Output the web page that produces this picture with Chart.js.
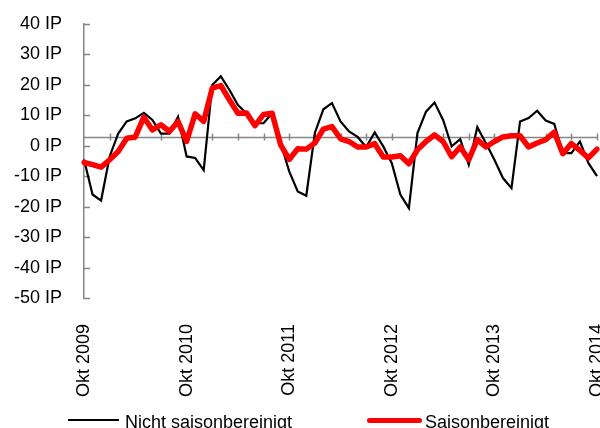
<!DOCTYPE html>
<html>
<head>
<meta charset="utf-8">
<script src="https://cdn.jsdelivr.net/npm/chart.js@4/dist/chart.umd.min.js"></script>
<style>
  html, body { margin: 0; padding: 0; background: #fff; overflow: hidden; }
  #wrap { position: relative; width: 600px; height: 428px; overflow: hidden; }
  .legend-line { position: absolute; }
  .legend-text { position: absolute; font: 18px Arial, "Liberation Sans", sans-serif; color: #000; white-space: nowrap; }
</style>
</head>
<body>
<div id="wrap">
  <canvas id="chart" width="600" height="428"></canvas>
  <div class="legend-line" style="left:68px; top:419px; width:51px; height:2px; background:#000;"></div>
  <div class="legend-text" style="left:125px; top:412px;">Nicht saisonbereinigt</div>
  <div class="legend-line" style="left:367px; top:418px; width:55px; height:5px; border-radius:3px; background:#f00;"></div>
  <div class="legend-text" style="left:425px; top:412px;">Saisonbereinigt</div>
</div>
<script>
// Months Okt 2009 .. Okt 2014
const monthNames = ["Jan", "Feb", "Mär", "Apr", "Mai", "Jun", "Jul", "Aug", "Sep", "Okt", "Nov", "Dez"];
const startYear = 2009;
const startMonth = 9; // Okt
const monthCount = 61;

// Nicht saisonbereinigt (IP)
const rawValues = [
  -4.5, -16, -18, -3.5, 4, 8, 9, 10.8, 8.5, 4, 4, 9.5,
  -3.5, -4, -8, 20, 22.8, 18.4, 13.4, 10.7, 7.4, 7.4, 10.7, 0.9,
  -8.4, -15, -16.4, 4.2, 12, 14, 8, 4.7, 2.9, -0.4, 4.4, -0.2,
  -5.7, -16, -20.5, 4.2, 11.2, 14.2, 8.5, -0.2, 2.2, -6.2, 6.1, 0.9,
  -4.6, -10.6, -13.9, 8, 9.1, 11.5, 8.3, 7.2, -2.4, -2.4, 1.4, -5.7,
  -10
];

// Saisonbereinigt (IP)
const adjValues = [
  -5.5, -6.2, -7, -4.6, -1.9, 2.5, 2.9, 9.4, 5.2, 6.9, 4.7, 8,
  1.4, 10.5, 8, 18.9, 19.8, 15.1, 10.7, 10.8, 6.6, 10.3, 10.7, 0.3,
  -4.5, -1, -1.1, 0.9, 5.5, 6.3, 2.3, 1.4, -0.4, -0.4, 0.7, -3.7,
  -3.7, -3.3, -5.9, -1.3, 1.4, 3.6, 1.4, -3.6, -0.4, -4.6, 2, -0.4,
  1.4, 2.9, 3.3, 3.3, -0.4, 0.9, 2, 4.5, -2.6, 0.7, -1.5, -4,
  -1.1
];

const yMin = -50;
const yMax = 40;
const yStep = 10;
const axisCross = 2.8; // where the category axis line crosses

const labels = [];
for (let i = 0; i < monthCount; i++) {
  const m = (startMonth + i) % 12;
  const y = startYear + Math.floor((startMonth + i) / 12);
  labels.push(monthNames[m] + " " + y);
}

const axisGrey = "#868686";

// draws the inner y ticks and the crossing category axis with its ticks
const axisDecor = {
  id: "axisDecor",
  beforeDatasetsDraw(chart) {
    const { ctx, chartArea, scales } = chart;
    const xs = scales.x, ys = scales.y;
    ctx.save();
    ctx.strokeStyle = axisGrey;
    ctx.lineWidth = 1.5;

    // y ticks, pointing inward
    ys.ticks.forEach((t) => {
      const py = Math.round(ys.getPixelForValue(t.value)) + 0.5;
      ctx.beginPath();
      ctx.moveTo(chartArea.left, py);
      ctx.lineTo(chartArea.left + 6, py);
      ctx.stroke();
    });

    // category axis line
    const cy = Math.round(ys.getPixelForValue(axisCross)) + 0.5;
    ctx.beginPath();
    ctx.moveTo(chartArea.left, cy);
    ctx.lineTo(chartArea.right, cy);
    ctx.stroke();

    // tick every 3 months
    for (let i = 3; i < labels.length; i += 3) {
      const px = Math.round(xs.getPixelForValue(i)) + 0.5;
      ctx.beginPath();
      ctx.moveTo(px, cy - 4);
      ctx.lineTo(px, cy + 3);
      ctx.stroke();
    }
    ctx.restore();
  },
};

const font = { family: "Arial, 'Liberation Sans', sans-serif", size: 18 };

new Chart(document.getElementById("chart"), {
  type: "line",
  data: {
    labels,
    datasets: [
      {
        label: "Nicht saisonbereinigt",
        data: rawValues,
        borderColor: "#000000",
        borderWidth: 2.2,
        pointRadius: 0,
        tension: 0,
        fill: false,
        order: 1,
      },
      {
        label: "Saisonbereinigt",
        data: adjValues,
        borderColor: "#ff0000",
        borderWidth: 5.5,
        borderCapStyle: "round",
        borderJoinStyle: "round",
        pointRadius: 0,
        tension: 0,
        fill: false,
        order: 0,
      },
    ],
  },
  options: {
    responsive: false,
    animation: false,
    devicePixelRatio: 1,
    layout: { padding: { top: 24, right: 3, left: 0, bottom: 0 } },
    plugins: {
      legend: { display: false },
      tooltip: { enabled: false },
    },
    scales: {
      x: {
        offset: false,
        grid: { display: false },
        border: { display: false },
        ticks: {
          autoSkip: false,
          minRotation: 90,
          maxRotation: 90,
          padding: 18,
          color: "#000",
          font,
          callback: (v, i) => (i % 12 === 0 ? labels[i] : ""),
        },
        afterFit: (s) => {
          s.height = 130;
          s.paddingLeft = 0;
          s.paddingRight = 0;
        },
      },
      y: {
        min: yMin,
        max: yMax,
        grid: { display: false, drawTicks: false },
        border: { display: true, color: axisGrey, width: 1.5 },
        ticks: {
          stepSize: yStep,
          padding: 22,
          color: "#000",
          font,
          callback: (v) => v + " IP",
        },
        afterFit: (s) => {
          s.width = 84;
          s.paddingTop = 0;
          s.paddingBottom = 0;
        },
      },
    },
  },
  plugins: [axisDecor],
});
</script>
</body>
</html>
